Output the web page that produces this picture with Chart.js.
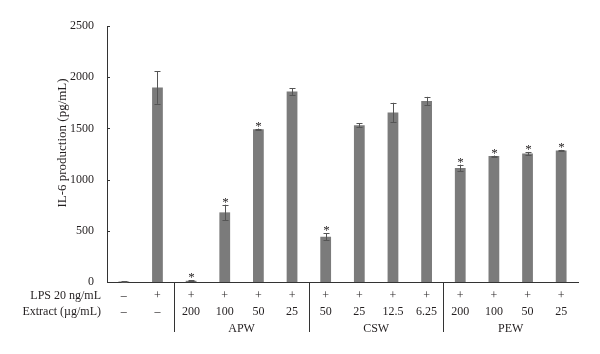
<!DOCTYPE html>
<html>
<head>
<meta charset="utf-8">
<script src="https://cdn.jsdelivr.net/npm/chart.js@4"></script>
<style>
  html, body { margin: 0; padding: 0; background: #ffffff; }
  #wrap { width: 600px; height: 354px; }
</style>
</head>
<body>
<div id="wrap"><canvas id="chart" width="600" height="354"></canvas></div>
<script>
// Dados do gráfico
const lpsRow = ["–", "+", "+", "+", "+", "+", "+", "+", "+", "+", "+", "+", "+", "+"];
const extractRow = ["–", "–", "200", "100", "50", "25", "50", "25", "12.5", "6.25", "200", "100", "50", "25"];
const groups = ["APW", "CSW", "PEW"];
const groupStart = [2, 6, 10];
const groupEnd = [5, 9, 13];
const il6Values = [5, 1900, 12, 680, 1492, 1860, 442, 1530, 1655, 1768, 1113, 1230, 1254, 1283];
const il6Errors = [2, 160, 5, 75, 6, 33, 35, 18, 95, 40, 33, 5, 16, 8];
const significant = [false, false, true, true, true, false, true, false, false, false, true, true, true, true];
const yTicks = [0, 500, 1000, 1500, 2000, 2500];

const labels = extractRow.map((e, i) => lpsRow[i] + " " + e);
const textColor = "#231f20";
const serif = "'Liberation Serif', 'DejaVu Serif', serif";

// Plugin para barras de erro, asteriscos e tabela abaixo do eixo
const extrasPlugin = {
  id: "extras",
  afterDatasetsDraw(chart) {
    const ctx = chart.ctx;
    const x = chart.scales.x;
    const y = chart.scales.y;
    const area = chart.chartArea;
    ctx.save();

    // título do eixo y
    ctx.fillStyle = textColor;
    ctx.font = "13px " + serif;
    ctx.textAlign = "center";
    ctx.textBaseline = "middle";
    ctx.translate(63, 143);
    ctx.rotate(-Math.PI / 2);
    ctx.fillText("IL-6 production (pg/mL)", 0, 0);
    ctx.setTransform(1, 0, 0, 1, 0, 0);

    // marcas do eixo y (para dentro)
    ctx.strokeStyle = "#333333";
    ctx.lineWidth = 1;
    yTicks.forEach(t => {
      const py = Math.round(y.getPixelForValue(t)) + 0.5;
      ctx.beginPath();
      ctx.moveTo(area.left, py);
      ctx.lineTo(area.left + 3, py);
      ctx.stroke();
    });

    // barras de erro
    ctx.strokeStyle = "#555555";
    il6Values.forEach((v, i) => {
      const px = Math.round(x.getPixelForValue(i)) + 0.5;
      const top = y.getPixelForValue(v + il6Errors[i]);
      const bottom = y.getPixelForValue(v - il6Errors[i]);
      ctx.beginPath();
      ctx.moveTo(px, top);
      ctx.lineTo(px, bottom);
      ctx.moveTo(px - 3, Math.round(top) + 0.5);
      ctx.lineTo(px + 3, Math.round(top) + 0.5);
      ctx.moveTo(px - 3, Math.round(bottom) + 0.5);
      ctx.lineTo(px + 3, Math.round(bottom) + 0.5);
      ctx.stroke();

      if (significant[i]) {
        ctx.fillStyle = textColor;
        ctx.font = "13px " + serif;
        ctx.textAlign = "center";
        ctx.textBaseline = "alphabetic";
        ctx.fillText("*", px, top + 1);
      }
    });

    // tabela
    ctx.fillStyle = textColor;
    ctx.font = "12px " + serif;
    ctx.textBaseline = "middle";
    ctx.textAlign = "right";
    ctx.fillText("LPS 20 ng/mL", 101, 296);
    ctx.fillText("Extract (µg/mL)", 101, 312);
    ctx.textAlign = "center";
    lpsRow.forEach((s, i) => ctx.fillText(s, x.getPixelForValue(i), 296));
    extractRow.forEach((s, i) => ctx.fillText(s, x.getPixelForValue(i), 312));

    const step = x.getPixelForValue(1) - x.getPixelForValue(0);
    ctx.strokeStyle = "#333333";
    groups.forEach((g, k) => {
      const left = x.getPixelForValue(groupStart[k]) - step / 2;
      const right = x.getPixelForValue(groupEnd[k]) + step / 2;
      ctx.fillText(g, (left + right) / 2, 329);
      const lx = Math.round(left) + 0.5;
      ctx.beginPath();
      ctx.moveTo(lx, area.bottom);
      ctx.lineTo(lx, 332);
      ctx.stroke();
    });
    ctx.restore();
  }
};

new Chart(document.getElementById("chart").getContext("2d"), {
  type: "bar",
  data: {
    labels: labels,
    datasets: [{
      data: il6Values,
      backgroundColor: "#7b7b7b",
      borderWidth: 0,
      barPercentage: 0.32,
      categoryPercentage: 1
    }]
  },
  options: {
    responsive: false,
    animation: false,
    layout: { padding: { top: 26, right: 22, left: 0, bottom: 0 } },
    plugins: {
      legend: { display: false },
      tooltip: { enabled: false }
    },
    scales: {
      x: {
        grid: { display: false },
        border: { display: true, color: "#333333", width: 1 },
        ticks: { display: false },
        afterFit: scale => { scale.height = 72; }
      },
      y: {
        min: 0,
        max: 2500,
        afterBuildTicks: scale => { scale.ticks = yTicks.map(v => ({ value: v })); },
        grid: { display: false },
        border: { display: true, color: "#333333", width: 1 },
        ticks: {
          color: textColor,
          font: { family: serif, size: 12 },
          padding: 5,
          callback: v => String(v)
        },
        afterFit: scale => { scale.width = 107; }
      }
    }
  },
  plugins: [extrasPlugin]
});
</script>
</body>
</html>
